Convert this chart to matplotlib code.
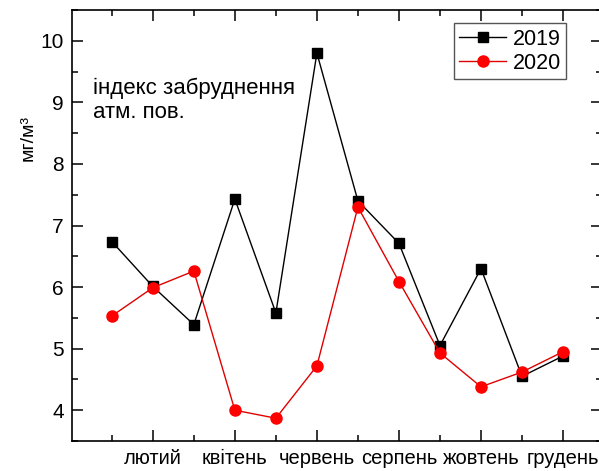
import matplotlib
matplotlib.use('Agg')
import matplotlib.pyplot as plt
from matplotlib.ticker import FixedLocator, MultipleLocator

plt.rcParams['font.family'] = ['Liberation Sans', 'DejaVu Sans']

# Months (Ukrainian), only every other one is labelled on the axis
months = ['січень', 'лютий', 'березень', 'квітень', 'травень', 'червень',
          'липень', 'серпень', 'вересень', 'жовтень', 'листопад', 'грудень']
values_2019 = [6.74, 6.01, 5.39, 7.43, 5.58, 9.80, 7.40, 6.71, 5.05, 6.30, 4.55, 4.88]
values_2020 = [5.53, 5.99, 6.26, 4.00, 3.87, 4.72, 7.30, 6.09, 4.93, 4.38, 4.62, 4.95]

x = list(range(len(months)))

fig = plt.figure(figsize=(5.99, 4.71), dpi=100)
ax = fig.add_axes([72 / 599, 30 / 471, 530 / 599, 431 / 471])

ax.plot(x, values_2019, color='black', linewidth=1.0, marker='s', markersize=7,
        label='2019', zorder=3)
ax.plot(x, values_2020, color='#e00000', linewidth=1.0, marker='o', markersize=8,
        markerfacecolor='red', markeredgecolor='red', label='2020', zorder=4)

ax.set_xlim(-0.97, 11.95)
ax.set_ylim(3.5, 10.5)

# ticks: labelled months are major, the rest minor
ax.xaxis.set_major_locator(FixedLocator(x[1::2]))
ax.xaxis.set_minor_locator(FixedLocator(x[0::2]))
ax.set_xticklabels(months[1::2])
ax.yaxis.set_major_locator(MultipleLocator(1))
ax.yaxis.set_minor_locator(MultipleLocator(0.5))

ax.tick_params(which='both', direction='in', top=True, right=True, width=1.1)
ax.tick_params(which='major', length=8)
ax.tick_params(which='minor', length=4)
ax.tick_params(axis='x', which='major', labelsize=14.5, pad=6)
ax.tick_params(axis='y', which='major', labelsize=15, pad=6)

for sp in ax.spines.values():
    sp.set_linewidth(1.2)

ax.text(-0.083, 0.704, 'мг/м³', transform=ax.transAxes, rotation=90,
        ha='center', va='center', fontsize=14)

ax.text(0.04, 0.79, 'індекс забруднення\nатм. пов.', transform=ax.transAxes,
        ha='left', va='center', fontsize=16, linespacing=1.2)

leg = ax.legend(loc='upper left', bbox_to_anchor=(0.72, 0.969), fontsize=15.5,
                fancybox=False, framealpha=1, edgecolor='#555555',
                handlelength=2.2, handletextpad=0.3, borderpad=0.25,
                labelspacing=0.15, borderaxespad=0)
leg.get_frame().set_linewidth(1.0)

fig.savefig('out.png', dpi=100)
